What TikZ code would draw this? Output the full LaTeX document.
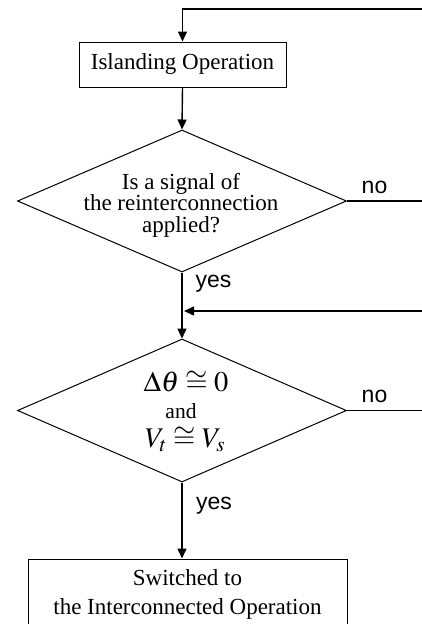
\documentclass[tikz,border=0pt]{standalone}
\usepackage{mathptmx}
\usepackage[no-math]{fontspec}
\setmainfont{Liberation Serif}
\newfontfamily\lsans{Liberation Sans}
\usetikzlibrary{arrows.meta,shapes.geometric}
\tikzset{
  x=1pt,y=-1pt,
  conn/.style={line width=1.4pt,-{Triangle[length=10pt,width=9pt]}},
  plainconn/.style={line width=1.4pt},
  boxnode/.style={draw,line width=1pt,inner sep=0pt},
  decision/.style={draw,diamond,line width=1pt,inner sep=0pt,aspect=2.317},
  serif/.style={align=center,inner sep=0pt,font=\fontsize{23}{21.5}\selectfont},
  lab/.style={inner sep=0pt,font=\lsans\fontsize{23}{26}\selectfont},
  mathbig/.style={inner sep=0pt,anchor=base,font=\fontsize{28.5}{30}\selectfont},
}
\begin{document}
\begin{tikzpicture}
\useasboundingbox (0,0) rectangle (422,624);
\node[boxnode,minimum width=207pt,minimum height=45pt] (isl) at (182.5,64.5) {};
\node[serif] (islt) at (182.5,64) {Islanding Operation};
\node[decision,minimum width=329pt,minimum height=142pt] (d1) at (182,201) {};
\node[serif] (d1t) at (181,205) {Is a signal of\\the reinterconnection\\applied?};
\node[decision,minimum width=329pt,minimum height=143pt] (d2) at (182,410.5) {};
\node[mathbig] (d2a) at (186,391) {$\Delta\theta\cong 0$};
\node[inner sep=0pt,anchor=base,font=\fontsize{21.5}{22}\selectfont] (d2b) at (181,418) {and};
\node[mathbig] (d2c) at (185,447) {$V_t\cong V_s$};
\node[boxnode,minimum width=319pt,minimum height=90pt] (fin) at (187.5,604) {};
\node[serif,font=\fontsize{23}{29}\selectfont] (fint) at (187.5,594) {Switched to\\the Interconnected Operation};
\coordinate (topR) at (422,9);
\coordinate (no1R) at (422,201);
\coordinate (in2) at (422,311);
\coordinate (no2R) at (422,410.5);
\draw[conn] (topR) -| (isl.north);
\draw[conn] (isl.south) -- (d1.north);
\draw[plainconn] (d1.east) -- (no1R);
\draw[conn] (d1.south) -- (d2.north);
\draw[conn,shorten >=2pt] (in2) -- (d1.south |- in2);
\draw[plainconn] (d2.east) -- (no2R);
\draw[conn] (d2.south) -- (d2.south |- fin.north);
\node[lab] (no1) at (374.5,187.5) {no};
\node[lab] (yes1) at (213.5,283.5) {yes};
\node[lab] (no2) at (374.5,396.5) {no};
\node[lab] (yes2) at (214,506) {yes};
\end{tikzpicture}
\end{document}
